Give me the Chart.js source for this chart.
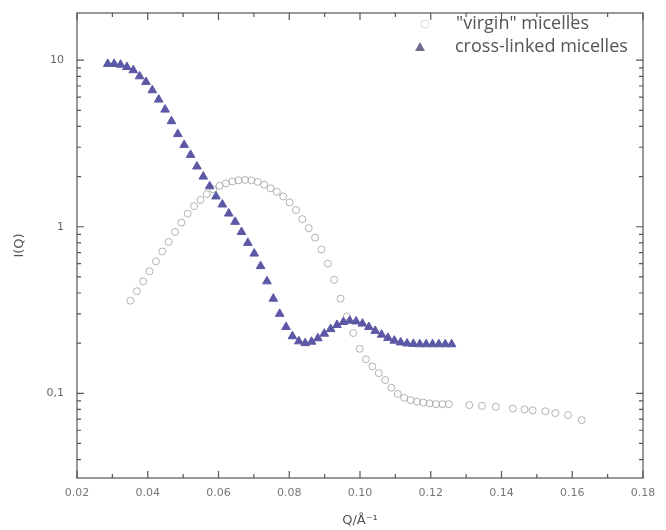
<!DOCTYPE html>
<html>
<head>
<meta charset="utf-8">
<script src="https://cdn.jsdelivr.net/npm/chart.js@4.4.1/dist/chart.umd.min.js"></script>
<style>
  html, body { margin: 0; padding: 0; background: #fff; }
  #wrap { width: 666px; height: 530px; position: relative; }
</style>
</head>
<body>
<div id="wrap"><canvas id="chart"></canvas></div>
<script>
// data (Q in 1/A, I(Q) log scale)
const seriesLabels = ['"virgin" micelles', 'cross-linked micelles'];

const qVirgin = [0.0351, 0.0369, 0.0387, 0.0405, 0.0423, 0.0441, 0.0459, 0.0477, 0.0495, 0.0513,
  0.0531, 0.0549, 0.0567, 0.0585, 0.0603, 0.0621, 0.0639, 0.0657, 0.0675, 0.0693,
  0.0711, 0.0729, 0.0747, 0.0765, 0.0783, 0.0801, 0.0819, 0.0837, 0.0855, 0.0873,
  0.0891, 0.0909, 0.0927, 0.0945, 0.0963, 0.0981, 0.0999, 0.1017, 0.1035, 0.1053,
  0.1071, 0.1089, 0.1107, 0.1125, 0.1143, 0.1161, 0.1179, 0.1197, 0.1215, 0.1233,
  0.1251, 0.1309, 0.1345, 0.1384, 0.1432, 0.1465, 0.1488, 0.1524, 0.1552, 0.1588, 0.1627];
const iVirgin = [0.36, 0.41, 0.47, 0.54, 0.62, 0.71, 0.81, 0.93, 1.06, 1.20,
  1.33, 1.45, 1.57, 1.68, 1.76, 1.82, 1.87, 1.90, 1.91, 1.90,
  1.86, 1.79, 1.70, 1.62, 1.52, 1.40, 1.26, 1.11, 0.98, 0.86,
  0.73, 0.60, 0.48, 0.37, 0.29, 0.23, 0.185, 0.160, 0.145, 0.132,
  0.120, 0.108, 0.099, 0.094, 0.091, 0.089, 0.088, 0.087, 0.086, 0.086,
  0.086, 0.085, 0.084, 0.083, 0.081, 0.080, 0.079, 0.078, 0.076, 0.074, 0.069];

const qCross = [0.0287, 0.0305, 0.0323, 0.0341, 0.0359, 0.0377, 0.0395, 0.0413, 0.0431, 0.0449,
  0.0467, 0.0485, 0.0503, 0.0521, 0.0539, 0.0557, 0.0575, 0.0593, 0.0611, 0.0629,
  0.0647, 0.0665, 0.0683, 0.0701, 0.0719, 0.0737, 0.0755, 0.0773, 0.0791, 0.0809,
  0.0827, 0.0845, 0.0863, 0.0881, 0.0899, 0.0917, 0.0935, 0.0953, 0.0971, 0.0989,
  0.1007, 0.1025, 0.1043, 0.1061, 0.1079, 0.1097, 0.1115, 0.1133, 0.1151, 0.1169,
  0.1187, 0.1205, 0.1223, 0.1241, 0.1259];
const iCross = [9.5, 9.5, 9.4, 9.1, 8.7, 8.0, 7.4, 6.6, 5.8, 5.05,
  4.3, 3.6, 3.1, 2.7, 2.3, 2.0, 1.75, 1.52, 1.36, 1.2,
  1.07, 0.93, 0.80, 0.69, 0.58, 0.47, 0.37, 0.30, 0.25, 0.22,
  0.205, 0.200, 0.204, 0.214, 0.228, 0.243, 0.257, 0.268, 0.273, 0.270,
  0.262, 0.250, 0.237, 0.225, 0.215, 0.207, 0.202, 0.199, 0.198, 0.197,
  0.197, 0.197, 0.197, 0.197, 0.197];

const xTickValues = [0.02, 0.04, 0.06, 0.08, 0.10, 0.12, 0.14, 0.16, 0.18];
const yTickValues = [0.1, 1, 10];
const yTickLabels = ['0,1', '1', '10'];

const TRI_COLOR = 'rgb(92, 88, 165)';
const CIRCLE_COLOR = 'rgba(160, 160, 160, 0.8)';
const AXIS_COLOR = '#555';

// inward ticks on all four sides + box, like the Origin plot
const frameTicks = {
  id: 'frameTicks',
  afterDraw(chart) {
    const { ctx, chartArea: a, scales } = chart;
    const xs = scales.x, ys = scales.y;
    ctx.save();
    ctx.strokeStyle = AXIS_COLOR;
    ctx.lineWidth = 1.2;
    ctx.strokeRect(a.left, a.top, a.right - a.left, a.bottom - a.top);
    ctx.beginPath();
    // x: major every 0.02, minor every 0.01
    for (let k = 2; k <= 18; k++) {
      const px = xs.getPixelForValue(k / 100);
      const len = k % 2 === 0 ? 7 : 4;
      ctx.moveTo(px, a.bottom); ctx.lineTo(px, a.bottom - len);
      ctx.moveTo(px, a.top); ctx.lineTo(px, a.top + len);
    }
    // y: decades major, 2..9 minor
    for (let e = -2; e <= 1; e++) {
      for (let m = 1; m <= 9; m++) {
        const v = m * Math.pow(10, e);
        if (v < ys.min || v > ys.max) continue;
        const py = ys.getPixelForValue(v);
        const len = m === 1 ? 7 : 4;
        ctx.moveTo(a.left, py); ctx.lineTo(a.left + len, py);
        ctx.moveTo(a.right, py); ctx.lineTo(a.right - len, py);
      }
    }
    ctx.stroke();
    ctx.restore();
  }
};

// legend in the upper right corner of the plot
const cornerLegend = {
  id: 'cornerLegend',
  afterDatasetsDraw(chart) {
    const { ctx } = chart;
    ctx.save();
    ctx.font = '18px "Open Sans", sans-serif';
    ctx.fillStyle = '#555';
    ctx.textBaseline = 'middle';
    ctx.textAlign = 'left';
    // virgin
    ctx.strokeStyle = 'rgba(205,205,205,0.7)';
    ctx.lineWidth = 1;
    ctx.beginPath();
    ctx.arc(425, 24, 4, 0, Math.PI * 2);
    ctx.stroke();
    ctx.fillText(seriesLabels[0], 456, 24);
    // cross-linked
    ctx.fillStyle = 'rgb(110,110,140)';
    ctx.beginPath();
    ctx.moveTo(420, 42); ctx.lineTo(425, 51); ctx.lineTo(415, 51);
    ctx.closePath();
    ctx.fill();
    ctx.fillStyle = '#555';
    ctx.fillText(seriesLabels[1], 455, 47);
    ctx.restore();
  }
};

new Chart(document.getElementById('chart'), {
  type: 'scatter',
  data: {
    datasets: [
      {
        label: seriesLabels[1],
        data: qCross.map((q, i) => ({ x: q, y: iCross[i] })),
        pointStyle: 'triangle',
        pointRadius: 5,
        backgroundColor: TRI_COLOR,
        borderColor: TRI_COLOR,
        borderWidth: 1,
        order: 0
      },
      {
        label: seriesLabels[0],
        data: qVirgin.map((q, i) => ({ x: q, y: iVirgin[i] })),
        pointStyle: 'circle',
        pointRadius: 3.5,
        backgroundColor: 'rgba(255,255,255,0)',
        borderColor: CIRCLE_COLOR,
        borderWidth: 1,
        order: 1
      }
    ]
  },
  options: {
    responsive: true,
    maintainAspectRatio: false,
    animation: false,
    layout: { padding: { top: 13, right: 23, bottom: 0, left: 0 } },
    plugins: {
      legend: { display: false },
      tooltip: { enabled: false }
    },
    scales: {
      x: {
        type: 'linear',
        min: 0.02,
        max: 0.18,
        afterBuildTicks: (scale) => { scale.ticks = xTickValues.map(v => ({ value: v })); },
        afterFit: (scale) => { scale.height = 52; },
        grid: { display: false, drawTicks: false },
        border: { display: false },
        ticks: {
          padding: 9,
          color: '#777',
          font: { family: '"DejaVu Sans", sans-serif', size: 11 },
          callback: (v) => v.toFixed(2)
        },
        title: {
          display: true,
          text: 'Q/Å⁻¹',
          color: '#555',
          padding: { top: 6, bottom: 2 },
          font: { family: '"DejaVu Sans", sans-serif', size: 13 }
        }
      },
      y: {
        type: 'logarithmic',
        min: 0.031,
        max: 19.2,
        afterBuildTicks: (scale) => { scale.ticks = yTickValues.map(v => ({ value: v })); },
        afterFit: (scale) => { scale.width = 77; },
        // transparent tick marks only make the gap between labels and axis
        grid: { display: true, drawOnChartArea: false, drawTicks: true, tickLength: 11, tickColor: 'rgba(0,0,0,0)' },
        border: { display: false },
        ticks: {
          padding: 2,
          color: '#666',
          font: { family: '"DejaVu Sans", sans-serif', size: 11 },
          callback: (v) => {
            const k = yTickValues.findIndex(t => Math.abs(t - v) < 1e-9);
            return k >= 0 ? yTickLabels[k] : '';
          }
        },
        title: {
          display: true,
          text: 'I(Q)',
          color: '#555',
          padding: { top: 12, bottom: 0 },
          font: { family: '"DejaVu Sans", sans-serif', size: 13 }
        }
      }
    }
  },
  plugins: [frameTicks, cornerLegend]
});
</script>
</body>
</html>
